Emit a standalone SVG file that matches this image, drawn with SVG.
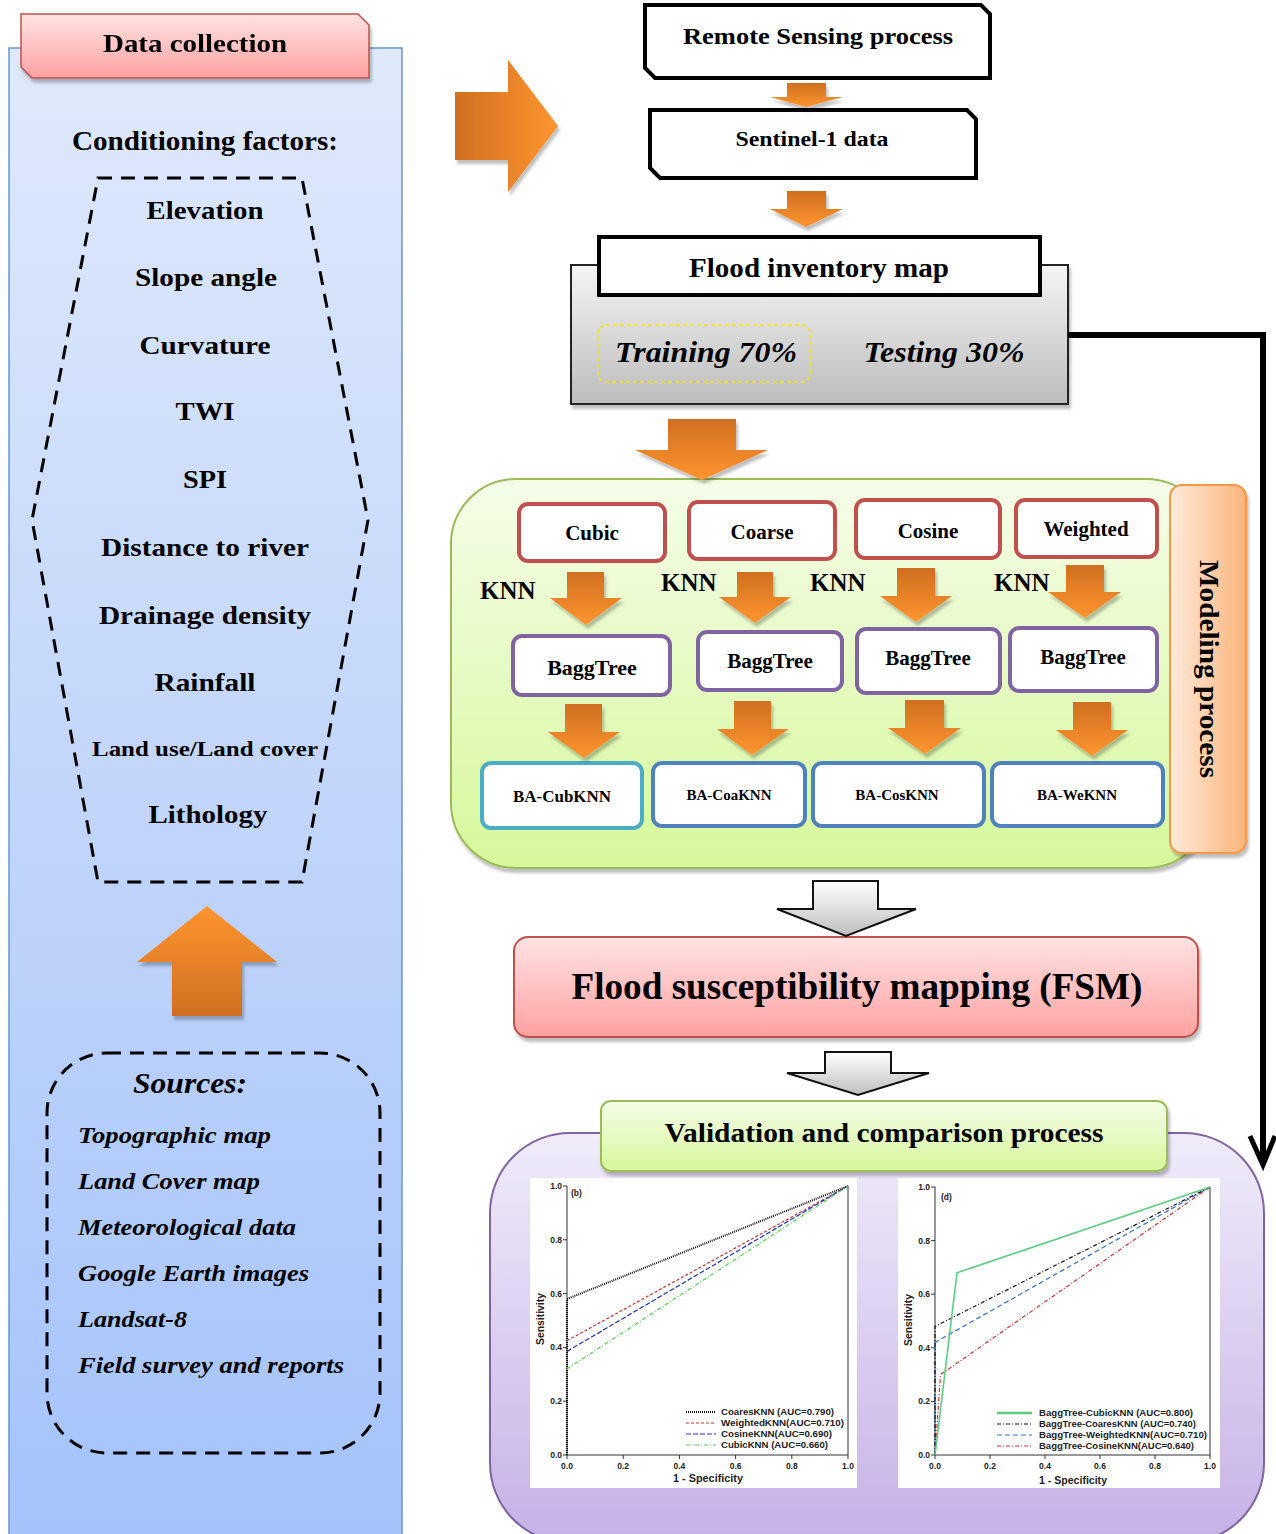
<svg xmlns="http://www.w3.org/2000/svg" width="1276" height="1534" viewBox="0 0 1276 1534">
<style>
.serif{font-family:"Liberation Serif","Times New Roman",serif;font-weight:bold;fill:#000}
.it{font-style:italic}
.sans{font-family:"Liberation Sans",Arial,sans-serif;font-weight:bold;fill:#222}
.mid{text-anchor:middle}
.end{text-anchor:end}
.box{fill:#fff;stroke-width:4}
.red{stroke:#c0504d}
.pur{stroke:#8064a2}
.blu{stroke:#4f81bd}
.teal{stroke:#4bacc6}
.ax{stroke:#333;stroke-width:1;fill:none}
</style>
<defs>
<linearGradient id="gBlue" x1="0" y1="0" x2="0" y2="1"><stop offset="0" stop-color="#dfe9fb"/><stop offset="1" stop-color="#a5c3fa"/></linearGradient>
<linearGradient id="gPink" x1="0" y1="0" x2="0" y2="1"><stop offset="0" stop-color="#ffe3e3"/><stop offset="1" stop-color="#ffa1a1"/></linearGradient>
<linearGradient id="gGray" x1="0" y1="0" x2="0" y2="1"><stop offset="0" stop-color="#f4f4f4"/><stop offset="1" stop-color="#bdbdbd"/></linearGradient>
<linearGradient id="gGreen" x1="0" y1="0" x2="0" y2="1"><stop offset="0" stop-color="#f5fde9"/><stop offset="1" stop-color="#d6f89b"/></linearGradient>
<linearGradient id="gPurple" x1="0" y1="0" x2="0" y2="1"><stop offset="0" stop-color="#f0ecfa"/><stop offset="1" stop-color="#c6b1e6"/></linearGradient>
<linearGradient id="gPeach" x1="0" y1="0" x2="1" y2="0"><stop offset="0" stop-color="#feeadb"/><stop offset="1" stop-color="#fbb47a"/></linearGradient>
<linearGradient id="gOrD" x1="0" y1="0" x2="0" y2="1"><stop offset="0" stop-color="#cf6f20"/><stop offset="1" stop-color="#ff9530"/></linearGradient>
<linearGradient id="gOrU" x1="0" y1="0" x2="0" y2="1"><stop offset="0" stop-color="#ff9530"/><stop offset="1" stop-color="#cf6f20"/></linearGradient>
<linearGradient id="gOrR" x1="0" y1="0" x2="1" y2="0"><stop offset="0" stop-color="#cf6f20"/><stop offset="1" stop-color="#ff9530"/></linearGradient>
<linearGradient id="gArrG" x1="0" y1="0" x2="0" y2="1"><stop offset="0" stop-color="#ffffff"/><stop offset="1" stop-color="#bfbfbf"/></linearGradient>
<filter id="sh" x="-10%" y="-10%" width="130%" height="130%"><feDropShadow dx="2" dy="4" stdDeviation="1.5" flood-color="#000" flood-opacity="0.25"/></filter>
</defs>

<g id="data-collection-panel">
<rect x="9" y="48" width="393" height="1490" fill="url(#gBlue)" stroke="#6a95cf" stroke-width="1.5"/>
</g>

<g id="data-collection-title" filter="url(#sh)">
<path d="M21 14 H358 L369 25 V78 H32 L21 67 Z" fill="url(#gPink)" stroke="#c0504d" stroke-width="1.5"/>
<text class="serif mid" x="195" y="52" font-size="26" textLength="184" lengthAdjust="spacingAndGlyphs">Data collection</text>
</g>

<g id="conditioning-factors">
<text class="serif mid" x="205" y="150" font-size="27" textLength="266" lengthAdjust="spacingAndGlyphs">Conditioning factors:</text>
<path d="M98 178 H302 L368 520 L302 882 H98 L32 520 Z" fill="none" stroke="#000" stroke-width="3" stroke-dasharray="14 9"/>
<g class="serif mid" font-size="26">
<text x="205" y="219" textLength="117" lengthAdjust="spacingAndGlyphs">Elevation</text>
<text x="206" y="286" textLength="142" lengthAdjust="spacingAndGlyphs">Slope angle</text>
<text x="205" y="354" textLength="131" lengthAdjust="spacingAndGlyphs">Curvature</text>
<text x="205" y="420" textLength="59" lengthAdjust="spacingAndGlyphs">TWI</text>
<text x="205" y="488" textLength="44" lengthAdjust="spacingAndGlyphs">SPI</text>
<text x="205" y="556" textLength="208" lengthAdjust="spacingAndGlyphs">Distance to river</text>
<text x="205" y="624" textLength="212" lengthAdjust="spacingAndGlyphs">Drainage density</text>
<text x="205" y="691" textLength="101" lengthAdjust="spacingAndGlyphs">Rainfall</text>
<text x="205" y="756" font-size="22" textLength="226" lengthAdjust="spacingAndGlyphs">Land use/Land cover</text>
<text x="208" y="823" textLength="119" lengthAdjust="spacingAndGlyphs">Lithology</text>
</g>
</g>

<g id="up-arrow" filter="url(#sh)">
<path d="M172 1016 V962 H137 L207 906 L277 962 H242 V1016 Z" fill="url(#gOrU)"/>
</g>

<g id="sources">
<rect x="47" y="1053" width="333" height="400" rx="60" fill="none" stroke="#000" stroke-width="3" stroke-dasharray="14 9"/>
<text class="serif it mid" x="190" y="1093" font-size="30" textLength="114" lengthAdjust="spacingAndGlyphs">Sources:</text>
<g class="serif it" font-size="24">
<text x="78" y="1143" textLength="193" lengthAdjust="spacingAndGlyphs">Topographic map</text>
<text x="78" y="1189" textLength="182" lengthAdjust="spacingAndGlyphs">Land Cover map</text>
<text x="78" y="1235" textLength="218" lengthAdjust="spacingAndGlyphs">Meteorological data</text>
<text x="78" y="1281" textLength="231" lengthAdjust="spacingAndGlyphs">Google Earth images</text>
<text x="78" y="1327" textLength="109" lengthAdjust="spacingAndGlyphs">Landsat-8</text>
<text x="78" y="1373" textLength="266" lengthAdjust="spacingAndGlyphs">Field survey and reports</text>
</g>
</g>

<g id="right-arrow" filter="url(#sh)">
<path d="M455 92 H508 V60 L558 126 L508 192 V160 H455 Z" fill="url(#gOrR)"/>
</g>

<g id="remote-sensing">
<path d="M645 5 H981 L990 14 V78 H655 L645 68 Z" fill="#fff" stroke="#000" stroke-width="4"/>
<text class="serif mid" x="818" y="44" font-size="24" textLength="270" lengthAdjust="spacingAndGlyphs">Remote Sensing process</text>
</g>

<g id="sentinel">
<path d="M650 110 H967 L976 119 V178 H660 L650 168 Z" fill="#fff" stroke="#000" stroke-width="4"/>
<text class="serif mid" x="812" y="146" font-size="21" textLength="153" lengthAdjust="spacingAndGlyphs">Sentinel-1 data</text>
</g>

<g id="flood-inventory">
<rect x="571" y="265" width="497" height="139" fill="url(#gGray)" stroke="#222" stroke-width="2" filter="url(#sh)"/>
<rect x="599" y="237" width="441" height="58" fill="#fff" stroke="#000" stroke-width="4"/>
<text class="serif mid" x="819" y="277" font-size="27" textLength="260" lengthAdjust="spacingAndGlyphs">Flood inventory map</text>
<rect x="598" y="325" width="212" height="57" rx="8" fill="none" stroke="#f5e600" stroke-width="1.5" stroke-dasharray="4 3"/>
<text class="serif it mid" x="706" y="362" font-size="30" textLength="182" lengthAdjust="spacingAndGlyphs">Training 70%</text>
<text class="serif it mid" x="944" y="362" font-size="30" textLength="161" lengthAdjust="spacingAndGlyphs">Testing 30%</text>
</g>

<g id="modeling-container">
<rect x="451" y="479" width="760" height="389" rx="65" fill="url(#gGreen)" stroke="#9bbb59" stroke-width="2" filter="url(#sh)"/>
<rect x="1170" y="485" width="76" height="368" rx="12" fill="url(#gPeach)" stroke="#f79646" stroke-width="2" filter="url(#sh)"/>
<text class="serif" font-size="28" transform="translate(1210 669) rotate(90)" x="0" y="10" text-anchor="middle" textLength="218" lengthAdjust="spacingAndGlyphs">Modeling process</text>
</g>

<g id="knn-cubic"><rect class="box red" x="519" y="504" width="146" height="57" rx="9"/><text class="serif mid" x="592" y="540" font-size="21">Cubic</text></g>
<g id="knn-coarse"><rect class="box red" x="689" y="502" width="146" height="57" rx="9"/><text class="serif mid" x="762" y="539" font-size="21">Coarse</text></g>
<g id="knn-cosine"><rect class="box red" x="856" y="500" width="144" height="58" rx="9"/><text class="serif mid" x="928" y="538" font-size="21">Cosine</text></g>
<g id="knn-weighted"><rect class="box red" x="1016" y="500" width="141" height="57" rx="9"/><text class="serif mid" x="1086" y="536" font-size="21">Weighted</text></g>

<g id="knn-labels" class="serif" font-size="25">
<text x="480" y="599">KNN</text>
<text x="661" y="591">KNN</text>
<text x="810" y="591">KNN</text>
<text x="994" y="591">KNN</text>
</g>

<g id="bagg-1"><rect class="box pur" x="513" y="636" width="157" height="59" rx="9"/><text class="serif mid" x="592" y="675" font-size="22">BaggTree</text></g>
<g id="bagg-2"><rect class="box pur" x="698" y="632" width="144" height="58" rx="9"/><text class="serif mid" x="770" y="668" font-size="21">BaggTree</text></g>
<g id="bagg-3"><rect class="box pur" x="857" y="629" width="143" height="64" rx="9"/><text class="serif mid" x="928" y="665" font-size="21">BaggTree</text></g>
<g id="bagg-4"><rect class="box pur" x="1010" y="628" width="147" height="63" rx="9"/><text class="serif mid" x="1083" y="664" font-size="21">BaggTree</text></g>

<g id="ba-cubknn"><rect class="box teal" x="482" y="763" width="160" height="65" rx="9"/><text class="serif mid" x="562" y="802" font-size="17">BA-CubKNN</text></g>
<g id="ba-coaknn"><rect class="box blu" x="653" y="763" width="152" height="63" rx="9"/><text class="serif mid" x="729" y="800" font-size="15">BA-CoaKNN</text></g>
<g id="ba-cosknn"><rect class="box blu" x="813" y="763" width="171" height="63" rx="9"/><text class="serif mid" x="897" y="800" font-size="15">BA-CosKNN</text></g>
<g id="ba-weknn"><rect class="box blu" x="992" y="763" width="171" height="63" rx="9"/><text class="serif mid" x="1077" y="800" font-size="15">BA-WeKNN</text></g>

<g id="fsm">
<rect x="514" y="937" width="684" height="100" rx="14" fill="url(#gPink)" stroke="#c0504d" stroke-width="2" filter="url(#sh)"/>
<text class="serif mid" x="857" y="999" font-size="38" textLength="571" lengthAdjust="spacingAndGlyphs">Flood susceptibility mapping (FSM)</text>
</g>

<g id="validation-container">
<rect x="490" y="1133" width="774" height="410" rx="80" fill="url(#gPurple)" stroke="#8064a2" stroke-width="2"/>
</g>

<g id="validation-title">
<rect x="601" y="1101" width="566" height="70" rx="10" fill="url(#gGreen)" stroke="#9bbb59" stroke-width="2" filter="url(#sh)"/>
<text class="serif mid" x="884" y="1142" font-size="28" textLength="439" lengthAdjust="spacingAndGlyphs">Validation and comparison process</text>
</g>

<g id="chart-b">
<rect x="530" y="1178" width="327" height="310" fill="#fff"/>
<path class="ax" d="M567 1186 V1455 H848 V1186"/>
<path class="ax" d="M563 1186 H567 M563 1239.8 H567 M563 1293.6 H567 M563 1347.4 H567 M563 1401.2 H567 M563 1455 H567 M567 1455 V1459 M623.2 1455 V1459 M679.4 1455 V1459 M735.6 1455 V1459 M791.8 1455 V1459 M848 1455 V1459"/>
<g class="sans end" font-size="8.5">
<text x="562" y="1189">1.0</text><text x="562" y="1242.8">0.8</text><text x="562" y="1296.6">0.6</text><text x="562" y="1350.4">0.4</text><text x="562" y="1404.2">0.2</text><text x="562" y="1458">0.0</text>
</g>
<g class="sans mid" font-size="8.5">
<text x="567" y="1469">0.0</text><text x="623.2" y="1469">0.2</text><text x="679.4" y="1469">0.4</text><text x="735.6" y="1469">0.6</text><text x="791.8" y="1469">0.8</text><text x="848" y="1469">1.0</text>
</g>
<text class="sans mid" x="708" y="1482" font-size="10" textLength="70" lengthAdjust="spacingAndGlyphs">1 - Specificity</text>
<text class="sans mid" font-size="10" transform="translate(544 1319) rotate(-90)" textLength="52" lengthAdjust="spacingAndGlyphs">Sensitivity</text>
<text class="sans" x="571" y="1196" font-size="8.5">(b)</text>
<path d="M567 1455 V1299 L848 1186" fill="none" stroke="#111" stroke-width="2" stroke-dasharray="1 1"/>
<path d="M567 1340.7 L848 1186" fill="none" stroke="#d03030" stroke-width="1.2" stroke-dasharray="3 2"/>
<path d="M567 1351.4 L848 1186" fill="none" stroke="#2030c0" stroke-width="1.2" stroke-dasharray="5 2"/>
<path d="M567 1368.9 L848 1186" fill="none" stroke="#50d050" stroke-width="1.2" stroke-dasharray="4 2 1 2"/>
<path d="M686 1412 H716" stroke="#111" stroke-width="2" stroke-dasharray="1 1"/>
<path d="M686 1423 H716" stroke="#d03030" stroke-width="1.2" stroke-dasharray="3 2"/>
<path d="M686 1434 H716" stroke="#2030c0" stroke-width="1.2" stroke-dasharray="5 2"/>
<path d="M686 1445 H716" stroke="#50d050" stroke-width="1.2" stroke-dasharray="4 2 1 2"/>
<g class="sans" font-size="9">
<text x="721" y="1415" textLength="113" lengthAdjust="spacingAndGlyphs">CoaresKNN (AUC=0.790)</text>
<text x="721" y="1426" textLength="123" lengthAdjust="spacingAndGlyphs">WeightedKNN(AUC=0.710)</text>
<text x="721" y="1437" textLength="111" lengthAdjust="spacingAndGlyphs">CosineKNN(AUC=0.690)</text>
<text x="721" y="1448" textLength="107" lengthAdjust="spacingAndGlyphs">CubicKNN (AUC=0.660)</text>
</g>
</g>

<g id="chart-d">
<rect x="898" y="1178" width="322" height="310" fill="#fff"/>
<path class="ax" d="M935 1187 V1455 H1210 V1187"/>
<path class="ax" d="M931 1187 H935 M931 1240.6 H935 M931 1294.2 H935 M931 1347.8 H935 M931 1401.4 H935 M931 1455 H935 M935 1455 V1459 M990 1455 V1459 M1045 1455 V1459 M1100 1455 V1459 M1155 1455 V1459 M1210 1455 V1459"/>
<g class="sans end" font-size="8.5">
<text x="930" y="1190">1.0</text><text x="930" y="1243.6">0.8</text><text x="930" y="1297.2">0.6</text><text x="930" y="1350.8">0.4</text><text x="930" y="1404.4">0.2</text><text x="930" y="1458">0.0</text>
</g>
<g class="sans mid" font-size="8.5">
<text x="935" y="1469">0.0</text><text x="990" y="1469">0.2</text><text x="1045" y="1469">0.4</text><text x="1100" y="1469">0.6</text><text x="1155" y="1469">0.8</text><text x="1210" y="1469">1.0</text>
</g>
<text class="sans mid" x="1073" y="1484" font-size="10" textLength="68" lengthAdjust="spacingAndGlyphs">1 - Specificity</text>
<text class="sans mid" font-size="10" transform="translate(912 1320) rotate(-90)" textLength="52" lengthAdjust="spacingAndGlyphs">Sensitivity</text>
<text class="sans" x="941" y="1200" font-size="8.5">(d)</text>
<path d="M935 1455 L940.5 1374.6 L1210 1187" fill="none" stroke="#d03030" stroke-width="1.2" stroke-dasharray="4 2 1 2"/>
<path d="M935 1455 V1342.4 L1210 1187" fill="none" stroke="#3070d0" stroke-width="1.2" stroke-dasharray="5 3"/>
<path d="M935 1455 V1326.4 L1210 1187" fill="none" stroke="#111" stroke-width="1.2" stroke-dasharray="4 2 1 2"/>
<path d="M935 1455 L957 1272.8 L1210 1187" fill="none" stroke="#5ccc80" stroke-width="1.6"/>
<path d="M997 1413 H1032" stroke="#5ccc80" stroke-width="2.5"/>
<path d="M997 1424 H1032" stroke="#111" stroke-width="1.2" stroke-dasharray="4 2 1 2"/>
<path d="M997 1435 H1032" stroke="#3070d0" stroke-width="1.2" stroke-dasharray="5 3"/>
<path d="M997 1446 H1032" stroke="#d03030" stroke-width="1.2" stroke-dasharray="4 2 1 2"/>
<g class="sans" font-size="9">
<text x="1039" y="1416" textLength="154" lengthAdjust="spacingAndGlyphs">BaggTree-CubicKNN (AUC=0.800)</text>
<text x="1039" y="1427" textLength="157" lengthAdjust="spacingAndGlyphs">BaggTree-CoaresKNN (AUC=0.740)</text>
<text x="1039" y="1438" textLength="168" lengthAdjust="spacingAndGlyphs">BaggTree-WeightedKNN(AUC=0.710)</text>
<text x="1039" y="1449" textLength="155" lengthAdjust="spacingAndGlyphs">BaggTree-CosineKNN(AUC=0.640)</text>
</g>
</g>

<g id="connectors">
<g fill="url(#gOrD)" filter="url(#sh)">
<path d="M787 83 H826 V97 H843 L806 107 L770 97 H787 Z"/>
<path d="M787 191 H826 V209 H843 L806 227 L770 209 H787 Z"/>
<path d="M668 419 H736 V450 H768 L702 480 L635 450 H668 Z"/>
<path d="M567 572 H604 V598 H622 L586 625 L550 598 H567 Z"/>
<path d="M737 572 H773 V597 H791 L755 623 L719 597 H737 Z"/>
<path d="M897 568 H935 V596 H952 L916 622 L880 596 H897 Z"/>
<path d="M1066 565 H1104 V592 H1121 L1085 618 L1048 592 H1066 Z"/>
<path d="M565 704 H602 V732 H620 L584 758 L548 732 H565 Z"/>
<path d="M734 701 H771 V729 H789 L752 755 L717 729 H734 Z"/>
<path d="M905 700 H944 V728 H961 L925 754 L888 728 H905 Z"/>
<path d="M1073 702 H1111 V730 H1128 L1092 756 L1056 730 H1073 Z"/>
</g>
<g fill="url(#gArrG)" stroke="#111" stroke-width="2" stroke-linejoin="miter">
<path d="M813 881 H878 V909 H916 L846 936 L777 909 H813 Z"/>
<path d="M825 1052 H891 V1073 H929 L858 1095 L787 1073 H825 Z"/>
</g>
<path d="M1068 335 H1263 V1162" fill="none" stroke="#000" stroke-width="6"/>
<path d="M1250 1136 L1263 1165 L1275 1136" fill="none" stroke="#000" stroke-width="5"/>
</g>
</svg>
